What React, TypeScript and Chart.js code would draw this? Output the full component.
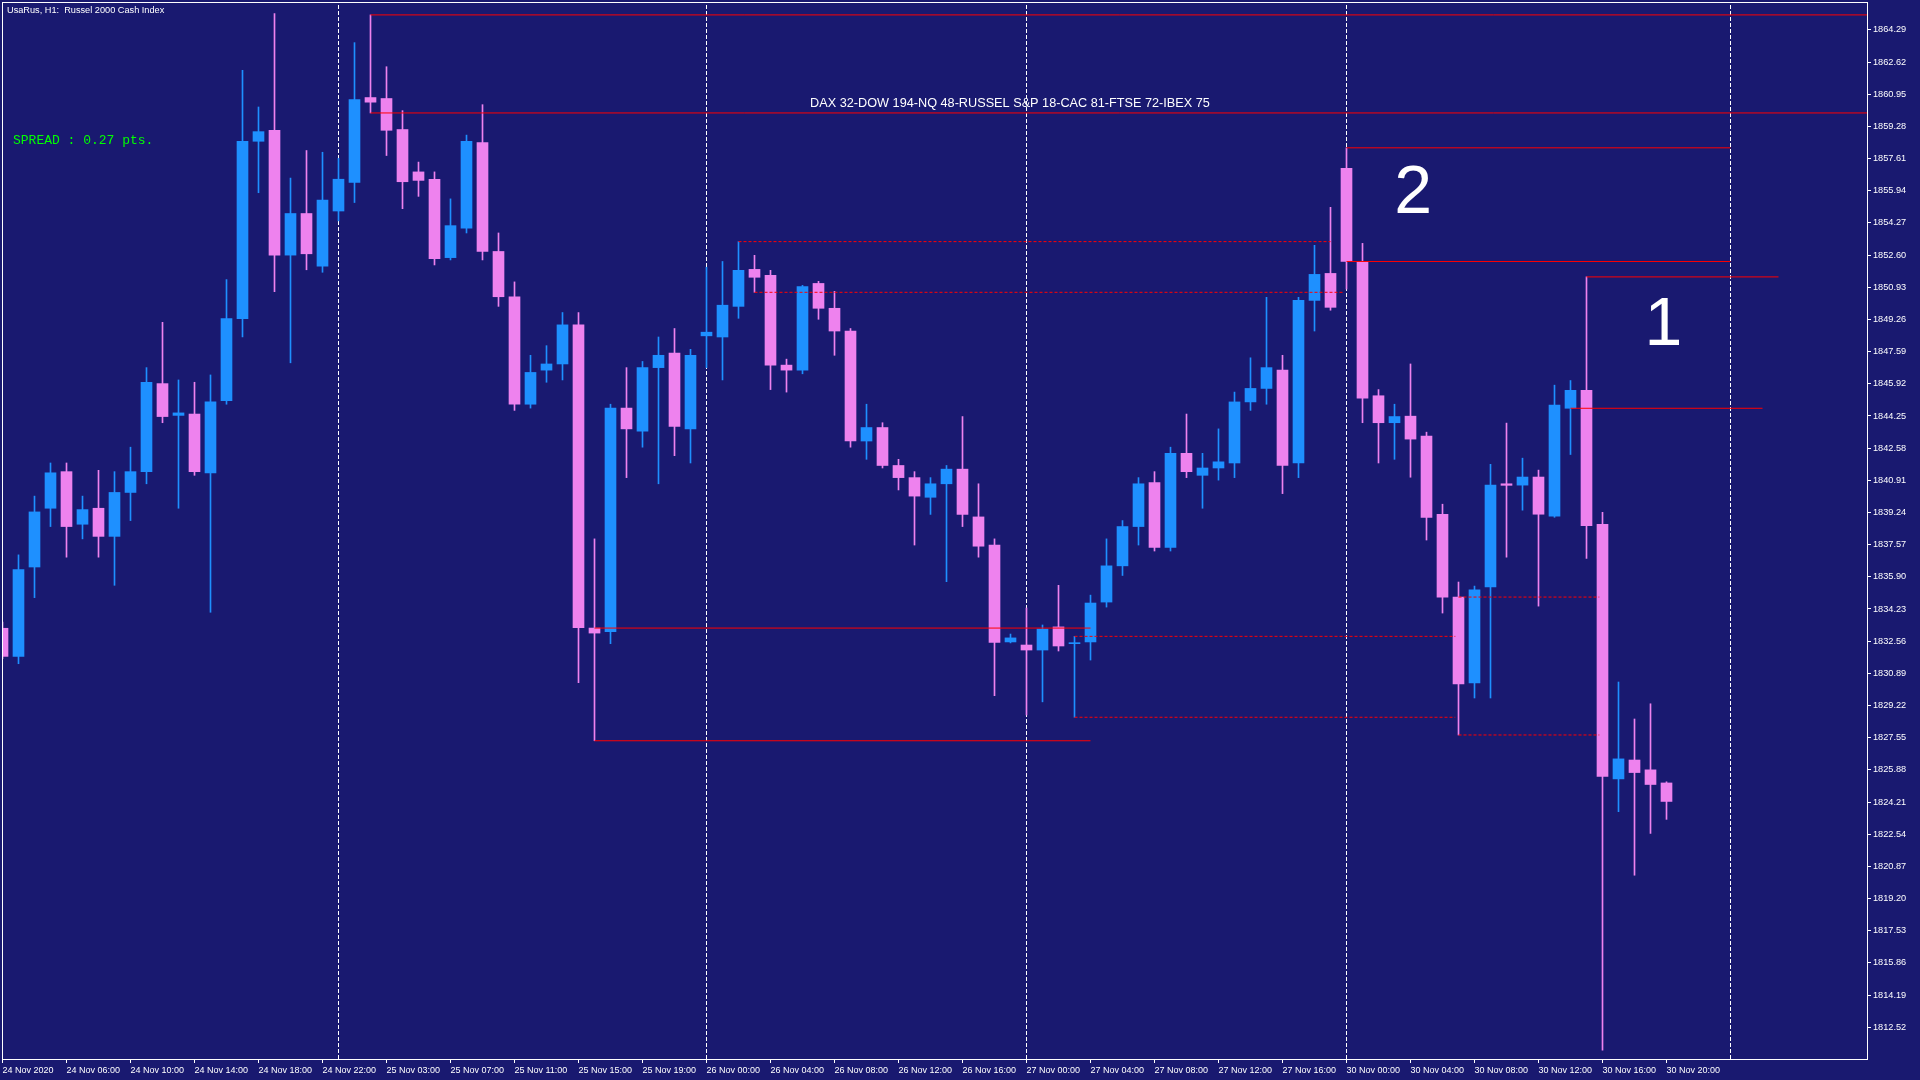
import { useEffect, useRef } from 'react';
import { Chart, registerables } from 'chart.js';

Chart.register(...registerables);

const W = 1920;
const H = 1080;
const BG = '#191970';
const BULL = '#1e90ff';
const BEAR = '#ee82ee';
const LEVEL = '#ff0000';
const FONT_UI = "'Liberation Sans', Arial, sans-serif";

// ---- data (H1 candles, 24 Nov 2020 02:00 .. 30 Nov 2020 20:00) ----
const opens = [
  1833.23, 1831.77, 1836.41, 1839.46, 1841.36, 1838.63, 1839.46, 1838.0, 1840.28, 1841.36,
  1845.93, 1844.28, 1844.35, 1841.3, 1845.05, 1849.3, 1858.51, 1859.08, 1852.6, 1854.76,
  1852.03, 1854.89, 1856.37, 1860.78, 1860.73, 1859.12, 1856.92, 1856.54, 1852.47, 1854.0,
  1858.44, 1852.79, 1850.44, 1844.86, 1846.63, 1846.95, 1848.98, 1833.24, 1833.05, 1844.66,
  1843.46, 1846.76, 1847.52, 1843.58, 1848.41, 1848.35, 1849.94, 1851.86, 1851.55, 1846.89,
  1846.63, 1851.13, 1849.84, 1848.66, 1842.95, 1843.65, 1841.68, 1841.05, 1840.03, 1840.73,
  1841.49, 1839.01, 1837.55, 1832.52, 1832.36, 1832.1, 1833.3, 1832.43, 1832.52, 1834.59,
  1836.47, 1838.51, 1840.79, 1837.43, 1842.31, 1841.17, 1841.55, 1841.81, 1844.98, 1845.68,
  1846.63, 1841.81, 1850.25, 1851.65, 1857.1, 1852.27, 1845.3, 1843.9, 1844.24, 1843.2,
  1839.15, 1834.85, 1830.39, 1835.37, 1840.73, 1840.66, 1841.08, 1839.05, 1844.65, 1845.58,
  1838.63, 1825.41, 1826.39, 1825.88, 1825.2,
];
const highs = [
  1833.55, 1837.04, 1840.09, 1841.81, 1841.81, 1840.09, 1841.43, 1841.36, 1842.63, 1846.76,
  1849.11, 1846.12, 1846.0, 1846.38, 1851.33, 1862.19, 1860.29, 1865.14, 1856.6, 1858.03,
  1857.94, 1857.62, 1863.63, 1865.07, 1862.38, 1860.1, 1857.43, 1856.92, 1855.52, 1858.83,
  1860.41, 1853.75, 1851.21, 1847.4, 1847.9, 1849.62, 1849.62, 1837.87, 1844.86, 1846.76,
  1847.08, 1848.35, 1848.79, 1847.71, 1851.97, 1852.27, 1853.3, 1852.59, 1851.81, 1847.2,
  1851.03, 1851.24, 1850.72, 1848.79, 1844.86, 1843.9, 1842.0, 1841.36, 1841.05, 1841.68,
  1844.22, 1840.73, 1837.87, 1832.93, 1834.28, 1833.4, 1835.46, 1832.81, 1834.95, 1837.87,
  1838.82, 1841.05, 1841.36, 1842.63, 1844.35, 1842.31, 1843.58, 1845.49, 1847.27, 1850.41,
  1847.4, 1850.41, 1853.11, 1855.08, 1858.17, 1853.21, 1845.62, 1844.86, 1846.95, 1843.41,
  1839.67, 1835.63, 1835.42, 1841.74, 1843.88, 1842.06, 1841.44, 1845.85, 1846.09, 1851.47,
  1839.25, 1830.44, 1828.52, 1829.31, 1825.26,
];
const lows = [
  1831.65, 1831.39, 1834.82, 1838.51, 1836.92, 1837.87, 1836.92, 1835.46, 1838.82, 1840.73,
  1843.9, 1839.46, 1841.17, 1834.06, 1844.86, 1848.35, 1855.84, 1850.7, 1847.01, 1851.84,
  1851.71, 1854.38, 1855.33, 1859.98, 1857.77, 1855.01, 1855.65, 1852.09, 1852.35, 1853.75,
  1852.35, 1849.94, 1844.54, 1844.66, 1846.0, 1846.12, 1830.41, 1827.39, 1832.43, 1841.05,
  1842.63, 1840.73, 1842.19, 1841.81, 1846.76, 1846.12, 1849.32, 1850.67, 1845.62, 1845.49,
  1846.44, 1849.27, 1847.4, 1842.63, 1842.0, 1841.55, 1840.41, 1837.55, 1839.14, 1835.65,
  1838.51, 1836.92, 1829.73, 1832.47, 1828.73, 1829.41, 1832.05, 1828.61, 1831.58, 1834.33,
  1835.97, 1837.55, 1837.24, 1837.24, 1841.05, 1839.46, 1840.92, 1841.05, 1844.54, 1844.86,
  1840.22, 1841.05, 1848.66, 1849.74, 1850.84, 1843.9, 1841.81, 1842.0, 1841.07, 1837.81,
  1834.02, 1827.69, 1829.61, 1829.61, 1836.92, 1839.36, 1834.38, 1838.99, 1842.25, 1836.85,
  1811.33, 1823.71, 1820.41, 1822.58, 1823.31,
];
const closes = [
  1831.77, 1836.28, 1839.27, 1841.3, 1838.51, 1839.39, 1838.0, 1840.28, 1841.36, 1846.0,
  1844.22, 1844.41, 1841.36, 1844.98, 1849.3, 1858.51, 1859.01, 1852.6, 1854.76, 1852.67,
  1855.46, 1856.54, 1860.67, 1860.54, 1859.08, 1856.41, 1856.48, 1852.41, 1854.13, 1858.51,
  1852.79, 1850.44, 1844.86, 1846.51, 1846.95, 1848.98, 1833.26, 1832.98, 1844.66, 1843.58,
  1846.76, 1847.4, 1843.71, 1847.4, 1848.6, 1850.0, 1851.81, 1851.45, 1846.89, 1846.63,
  1850.97, 1849.84, 1848.66, 1842.95, 1843.65, 1841.68, 1841.05, 1840.09, 1840.73, 1841.49,
  1839.14, 1837.49, 1832.49, 1832.73, 1832.1, 1833.19, 1832.31, 1832.46, 1834.54, 1836.47,
  1838.51, 1840.73, 1837.43, 1842.31, 1841.36, 1841.55, 1841.87, 1844.98, 1845.68, 1846.76,
  1841.68, 1850.25, 1851.6, 1849.89, 1852.27, 1845.17, 1843.9, 1844.22, 1843.05, 1838.99,
  1834.85, 1830.34, 1835.22, 1840.66, 1840.65, 1841.08, 1839.15, 1844.81, 1845.58, 1838.56,
  1825.54, 1826.45, 1825.74, 1825.12, 1824.24,
];

const timeLabelBars = [0, 4, 8, 12, 16, 20, 24, 28, 32, 36, 40, 44, 48, 52, 56, 60, 64, 68, 72, 76, 80, 84, 88, 92, 96, 100, 104];
const timeLabels = [
  '24 Nov 2020', '24 Nov 06:00', '24 Nov 10:00', '24 Nov 14:00', '24 Nov 18:00', '24 Nov 22:00',
  '25 Nov 03:00', '25 Nov 07:00', '25 Nov 11:00', '25 Nov 15:00', '25 Nov 19:00',
  '26 Nov 00:00', '26 Nov 04:00', '26 Nov 08:00', '26 Nov 12:00', '26 Nov 16:00',
  '27 Nov 00:00', '27 Nov 04:00', '27 Nov 08:00', '27 Nov 12:00', '27 Nov 16:00',
  '30 Nov 00:00', '30 Nov 04:00', '30 Nov 08:00', '30 Nov 12:00', '30 Nov 16:00', '30 Nov 20:00',
];
const priceTicks = [
  '1812.52', '1814.19', '1815.86', '1817.53', '1819.20', '1820.87', '1822.54', '1824.21',
  '1825.88', '1827.55', '1829.22', '1830.89', '1832.56', '1834.23', '1835.90', '1837.57',
  '1839.24', '1840.91', '1842.58', '1844.25', '1845.92', '1847.59', '1849.26', '1850.93',
  '1852.60', '1854.27', '1855.94', '1857.61', '1859.28', '1860.95', '1862.62', '1864.29',
];

const separatorBars = [21, 44, 64, 84, 108];

const levelValues = [1865.07, 1859.98, 1858.17, 1852.27, 1851.47, 1844.65, 1853.3, 1850.67, 1833.24, 1827.39, 1832.81, 1828.61, 1834.85, 1827.69];
const levelStartBars = [23, 23, 84, 84, 99, 98, 46, 47, 37, 37, 67, 67, 91, 91];
const levelEndBars = [116.6, 116.6, 108, 108, 111, 110, 83, 83.85, 68, 68, 90.8, 90.8, 99.8, 99.8];
const levelDashed = [false, false, false, false, false, false, true, true, false, false, true, true, true, true];

const waveLabels = ['2', '1'];
const waveLabelBars = [88.16, 103.8];
const waveLabelPrices = [1854.8, 1847.95];

const titleText = 'UsaRus, H1:  Russel 2000 Cash Index';
const spreadText = 'SPREAD : 0.27 pts.';
const infoText = 'DAX 32-DOW 194-NQ 48-RUSSEL S&P 18-CAC 81-FTSE 72-IBEX 75';

const Y_MIN = 1810.87;
const Y_MAX = 1865.74;
const X_MIN = -0.03125;
const X_MAX = 116.53125;

export default function App() {
  const ref = useRef<HTMLCanvasElement | null>(null);

  useEffect(() => {
    document.body.style.margin = '0';
    document.body.style.background = BG;
    const canvas = ref.current;
    if (!canvas) return;

    const idx = opens.map((_, i) => i);
    const colors = idx.map((i) => (closes[i] >= opens[i] ? BULL : BEAR));

    const datasets: any[] = [
      {
        type: 'bar',
        label: 'bodies',
        data: idx.map((i) => ({ x: i, y: [opens[i], closes[i]] })),
        backgroundColor: colors,
        borderWidth: 0,
        barThickness: 11,
        minBarLength: 1,
        grouped: false,
        order: 1,
      },
      {
        type: 'bar',
        label: 'wicks',
        data: idx.map((i) => ({ x: i, y: [lows[i], highs[i]] })),
        backgroundColor: colors,
        borderWidth: 0,
        barThickness: 1,
        grouped: false,
        order: 2,
      },
    ];
    separatorBars.forEach((b) => {
      datasets.push({
        type: 'line',
        data: [
          { x: b, y: Y_MIN },
          { x: b, y: Y_MAX },
        ],
        borderColor: '#ffffff',
        borderWidth: 1,
        borderDash: [4, 2],
        pointRadius: 0,
        order: 3,
      });
    });
    levelValues.forEach((v, k) => {
      datasets.push({
        type: 'line',
        data: [
          { x: levelStartBars[k], y: v },
          { x: levelEndBars[k], y: v },
        ],
        borderColor: LEVEL,
        borderWidth: 1,
        borderDash: levelDashed[k] ? [3, 2] : [],
        pointRadius: 0,
        order: 0,
      });
    });

    const bgPlugin = {
      id: 'bg',
      beforeDraw(chart: any) {
        const c = chart.ctx;
        c.save();
        c.fillStyle = BG;
        c.fillRect(0, 0, chart.width, chart.height);
        c.restore();
      },
    };

    const overlayPlugin = {
      id: 'overlay',
      afterDraw(chart: any) {
        const c = chart.ctx;
        const a = chart.chartArea;
        c.save();
        c.strokeStyle = '#ffffff';
        c.lineWidth = 1;
        c.strokeRect(a.left + 0.5, a.top + 0.5, a.right - a.left, a.bottom - a.top);

        c.textAlign = 'left';
        c.textBaseline = 'alphabetic';
        c.fillStyle = '#ffffff';
        c.font = `9.2px ${FONT_UI}`;
        c.fillText(titleText, 7, 13);

        c.fillStyle = '#00ff00';
        c.font = "13px 'Liberation Mono', 'DejaVu Sans Mono', monospace";
        c.fillText(spreadText, 13, 144);

        c.fillStyle = '#ffffff';
        c.font = `12.7px ${FONT_UI}`;
        c.textAlign = 'center';
        c.fillText(infoText, 1010, 107);

        const xs = chart.scales.x;
        const ys = chart.scales.y;
        c.font = "68px 'Liberation Sans', Arial, sans-serif";
        waveLabels.forEach((t, k) => {
          c.fillText(t, xs.getPixelForValue(waveLabelBars[k]), ys.getPixelForValue(waveLabelPrices[k]));
        });
        c.restore();
      },
    };

    const chart = new Chart(canvas, {
      type: 'bar',
      data: { datasets },
      options: {
        responsive: false,
        devicePixelRatio: 1,
        animation: false,
        events: [],
        layout: { padding: { left: 2, top: 2, right: 0, bottom: 0 } },
        plugins: { legend: { display: false }, tooltip: { enabled: false } },
        scales: {
          x: {
            type: 'linear',
            position: 'bottom',
            min: X_MIN,
            max: X_MAX,
            offset: false,
            afterBuildTicks: (s: any) => {
              s.ticks = timeLabelBars.map((v) => ({ value: v }));
            },
            afterFit: (s: any) => {
              s.height = 21;
              s.paddingLeft = 0;
              s.paddingRight = 0;
            },
            ticks: {
              autoSkip: false,
              maxRotation: 0,
              minRotation: 0,
              align: 'start',
              padding: 2,
              color: '#ffffff',
              font: { family: FONT_UI, size: 9 },
              callback: (_v: any, i: number) => timeLabels[i],
            },
            grid: { display: true, offset: false, drawOnChartArea: false, drawTicks: true, tickLength: 4, color: '#ffffff', lineWidth: 1 },
            border: { display: false },
          },
          y: {
            type: 'linear',
            position: 'right',
            min: Y_MIN,
            max: Y_MAX,
            afterBuildTicks: (s: any) => {
              s.ticks = priceTicks.map((t) => ({ value: parseFloat(t) }));
            },
            afterFit: (s: any) => {
              s.width = 53;
              s.paddingTop = 0;
              s.paddingBottom = 0;
            },
            ticks: {
              padding: 2,
              color: '#ffffff',
              font: { family: FONT_UI, size: 9.2 },
              callback: (_v: any, i: number) => priceTicks[i],
            },
            grid: { display: true, drawOnChartArea: false, drawTicks: true, tickLength: 4, color: '#ffffff', lineWidth: 1 },
            border: { display: false },
          },
        },
      } as any,
      plugins: [bgPlugin, overlayPlugin],
    });

    return () => chart.destroy();
  }, []);

  return (
    <canvas
      ref={ref}
      width={W}
      height={H}
      style={{ position: 'fixed', left: 0, top: 0, width: W, height: H, display: 'block' }}
    />
  );
}
